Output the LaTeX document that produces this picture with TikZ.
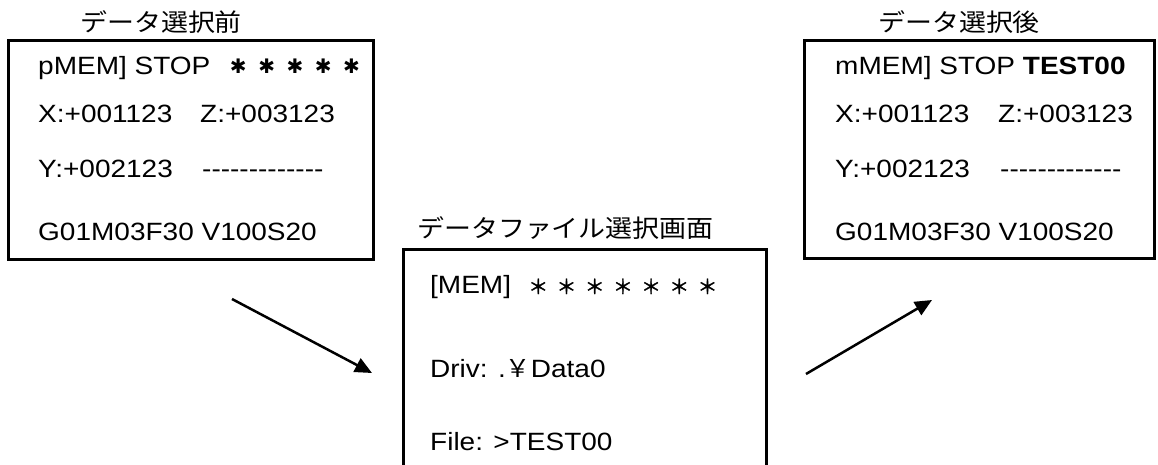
\documentclass[tikz,border=0pt]{standalone}
\usepackage{fontspec}
\setmainfont{Liberation Sans}[FakeStretch=1.12]
\newfontfamily\jp{Noto Sans CJK JP}[FakeStretch=1.1]
\newfontfamily\jpstar{Noto Sans CJK JP}[FakeBold=1.5]
\newfontfamily\dvs{DejaVu Sans}
\newfontfamily\jpyen{Noto Sans CJK JP}
\usetikzlibrary{arrows.meta}
\tikzset{
  screen/.style={draw, line width=3pt, inner sep=0pt, anchor=north west},
  txt/.style={anchor=base west, inner sep=0pt, font=\fontsize{25}{30}\selectfont},
  ttl/.style={anchor=base west, inner sep=0pt, font=\jp\fontsize{24.5}{28}\selectfont},
  arr/.style={line width=2.5pt, -{Triangle[length=17pt,width=15pt]}}
}
\newcommand{\bst}{\makebox[28.3pt][c]{✱}}
\newcommand{\rst}{\makebox[28.2pt][c]{＊}}
\begin{document}
\begin{tikzpicture}[x=1pt,y=-1pt]
\clip (0,0) rectangle (1158,465);
\fill[white] (0,0) rectangle (1158,465);
% boxes
\node[screen, minimum width=365pt, minimum height=219pt] (before) at (7,39) {};
\node[screen, minimum width=350pt, minimum height=218pt] (after) at (803,39) {};
\node[screen, minimum width=363pt, minimum height=240pt] (select) at (402,248) {};
% titles
\node[ttl] (t1) at (80,32) {データ選択前};
\node[ttl] (t2) at (417,237) {データファイル選択画面};
\node[ttl] (t3) at (878,32) {データ選択後};
% before screen
\node[txt] (b1) at (38,75) {pMEM] STOP};
\node[txt, font=\dvs\fontsize{20}{20}\selectfont] (b1s) at (224,74) {\bst\bst\bst\bst\bst};
\node[txt] (b2) at (38,123) {X:+001123};
\node[txt] (b2z) at (200,123) {Z:+003123};
\node[txt] (b3) at (38,178) {Y:+002123};
\node[txt] (b3d) at (202,178) {-{}-{}-{}-{}-{}-{}-{}-{}-{}-{}-{}-{}-};
\node[txt] (b4) at (38,240) {G01M03F30 V100S20};
% after screen
\node[txt] (a1) at (835,75) {mMEM] STOP \textbf{TEST00}};
\node[txt] (a2) at (835,123) {X:+001123};
\node[txt] (a2z) at (998,123) {Z:+003123};
\node[txt] (a3) at (835,178) {Y:+002123};
\node[txt] (a3d) at (1000,178) {-{}-{}-{}-{}-{}-{}-{}-{}-{}-{}-{}-{}-};
\node[txt] (a4) at (835,240) {G01M03F30 V100S20};
% select screen
\node[txt] (s1) at (430,293) {[MEM]};
\node[txt, font=\jpstar\fontsize{20}{20}\selectfont] (s1s) at (524,294) {\rst\rst\rst\rst\rst\rst\rst};
\node[txt] (s2) at (430,377) {Driv: .{\jpyen ￥}Data0};
\node[txt] (s3) at (430,450) {File: >TEST00};
% arrows
\coordinate (p1) at (232,299);
\coordinate (p2) at (372,373);
\coordinate (q1) at (806,374);
\coordinate (q2) at (932,300);
\draw[arr] (p1) -- (p2);
\draw[arr] (q1) -- (q2);
\end{tikzpicture}
\end{document}
